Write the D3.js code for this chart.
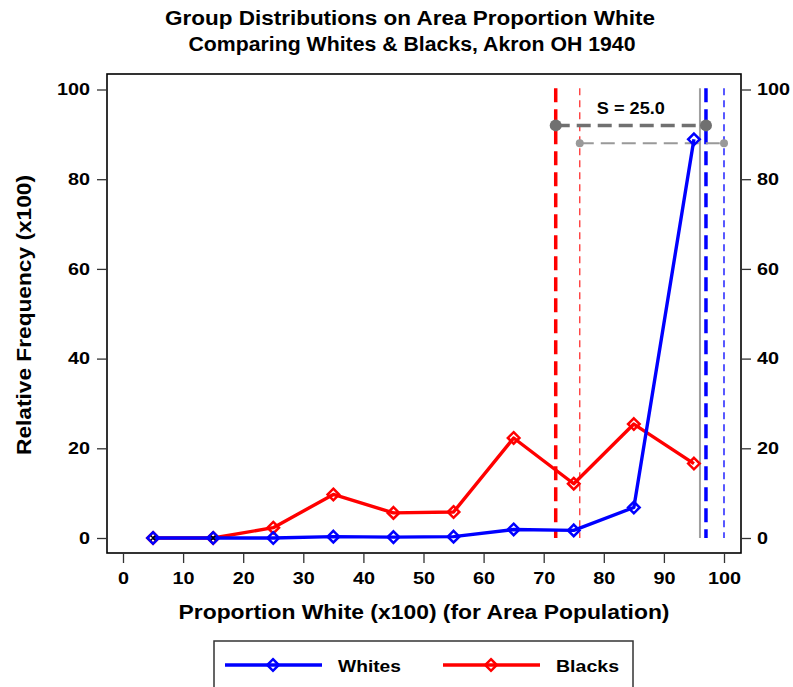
<!DOCTYPE html>
<html><head><meta charset="utf-8">
<script src="https://cdn.jsdelivr.net/npm/d3@7"></script>
<style>body{margin:0;background:#fff;} svg{display:block;font-family:"Liberation Sans",Arial,sans-serif;}</style>
</head><body>
<script>
const categories = [5,15,25,35,45,55,65,75,85,95];
const whites = [0,0,0,0.3,0.2,0.3,1.9,1.7,6.8,88.9];
const blacks = [0,0,2.3,9.7,5.6,5.8,22.3,12.1,25.4,16.6];
const xTicks = [0,10,20,30,40,50,60,70,80,90,100];
const yTicks = [0,20,40,60,80,100];
const means = {blackMean:72, blackMedian:76, whiteMean:97, whiteMedian:100, gray:96};
const sLevels = {thick:92, thin:88};
const sLabel = "S = 25.0";

const W=793,H=687;
const svg=d3.select("body").append("svg").attr("width",W).attr("height",H);
const frame={l:107,r:741,t:74,b:553};
const x=d3.scaleLinear().domain([0,100]).range([123,724]);
const y=d3.scaleLinear().domain([0,100]).range([538,89.5]);

function txt(xp,yp,s,size,len,anchor){
  return svg.append("text").attr("x",xp).attr("y",yp).attr("text-anchor",anchor||"middle").attr("font-weight","bold")
    .attr("font-size",size).attr("textLength",len).attr("lengthAdjust","spacingAndGlyphs").text(s);
}
// titles
txt(410,25,"Group Distributions on Area Proportion White",19.5,490);
txt(412,51,"Comparing Whites & Blacks, Akron OH 1940",19.5,447);

// frame
svg.append("rect").attr("x",frame.l).attr("y",frame.t).attr("width",frame.r-frame.l).attr("height",frame.b-frame.t).attr("fill","none").attr("stroke","#000").attr("stroke-width",1.6);

// axes
const axL=svg.append("g").attr("transform",`translate(${frame.l},0)`).call(d3.axisLeft(y).tickValues(yTicks).tickSize(10).tickPadding(7));
const axR=svg.append("g").attr("transform",`translate(${frame.r},0)`).call(d3.axisRight(y).tickValues(yTicks).tickSize(10).tickPadding(6));
const axB=svg.append("g").attr("transform",`translate(0,${frame.b})`).call(d3.axisBottom(x).tickValues(xTicks).tickSize(10).tickPadding(9));
[axL,axR,axB].forEach(a=>{a.select(".domain").remove();a.selectAll("line").attr("stroke","#333").attr("stroke-width",1.3);
  a.selectAll("text").attr("font-size",16.5).attr("font-weight","bold").attr("fill","#000").style("font-family","Liberation Sans, Arial, sans-serif")
   .attr("textLength",function(){return this.textContent.length*11;}).attr("lengthAdjust","spacingAndGlyphs");});

svg.append("text").attr("transform","translate(31,315) rotate(-90)").attr("text-anchor","middle").attr("font-weight","bold").attr("font-size",20)
  .attr("textLength",280).attr("lengthAdjust","spacingAndGlyphs").text("Relative Frequency (x100)");
txt(424,619,"Proportion White (x100) (for Area Population)",20,491);

// vertical reference lines
const vtop=y(100.3), vbot=y(0);
function vline(v,color,w,dash){svg.append("line").attr("x1",x(v)).attr("x2",x(v)).attr("y1",vtop).attr("y2",vbot).attr("stroke",color).attr("stroke-width",w).attr("stroke-dasharray",dash);}
vline(means.gray,"#a0a0a0",2,null);
vline(means.blackMean,"#ff0000",3.5,"14,7");
vline(means.blackMedian,"#ff3030",1.3,"7,5");
vline(means.whiteMean,"#0000ff",3.5,"14,7");
vline(means.whiteMedian,"#0000ff",1.3,"7,5");

// S lines
svg.append("line").attr("x1",x(means.blackMedian)).attr("x2",x(means.whiteMedian)).attr("y1",y(sLevels.thin)).attr("y2",y(sLevels.thin)).attr("stroke","#999").attr("stroke-width",2).attr("stroke-dasharray","14,7");
[means.blackMedian,means.whiteMedian].forEach(v=>svg.append("circle").attr("cx",x(v)).attr("cy",y(sLevels.thin)).attr("r",4).attr("fill","#999"));
svg.append("line").attr("x1",x(means.blackMean)).attr("x2",x(means.whiteMean)).attr("y1",y(sLevels.thick)).attr("y2",y(sLevels.thick)).attr("stroke","#707070").attr("stroke-width",3.5).attr("stroke-dasharray","14,7");
[means.blackMean,means.whiteMean].forEach(v=>svg.append("circle").attr("cx",x(v)).attr("cy",y(sLevels.thick)).attr("r",6).attr("fill","#707070"));
txt((x(means.blackMean)+x(means.whiteMean))/2,114,sLabel,17,68);

// series
const line=d3.line().x((d,i)=>x(categories[i])).y(d=>y(d));
function series(vals,color){
  svg.append("path").attr("d",line(vals)).attr("fill","none").attr("stroke",color).attr("stroke-width",3.4).attr("stroke-linejoin","round");
  svg.append("g").selectAll("path").data(vals).join("path")
    .attr("d",d3.symbol(d3.symbolDiamond2,85)).attr("transform",(d,i)=>`translate(${x(categories[i])},${y(d)})`)
    .attr("fill","none").attr("stroke",color).attr("stroke-width",2.5);
}
series(blacks,"#ff0000");
series(whites,"#0000ff");
// small black x markers at zero-overlap points
const zeroCats=categories.filter((c,i)=>blacks[i]===0&&whites[i]===0);
svg.append("g").selectAll("path").data(zeroCats).join("path")
  .attr("d",d3.symbol(d3.symbolX,14)).attr("transform",c=>`translate(${x(c)},${y(0)})`).attr("stroke","#000").attr("stroke-width",1.5).attr("fill","none");

// legend
svg.append("rect").attr("x",214).attr("y",641).attr("width",419).attr("height",60).attr("fill","#fff").attr("stroke","#333").attr("stroke-width",1.5);
const leg=[{name:"Whites",color:"#0000ff",x0:225},{name:"Blacks",color:"#ff0000",x0:443}];
leg.forEach(l=>{
  svg.append("line").attr("x1",l.x0).attr("x2",l.x0+97).attr("y1",665).attr("y2",665).attr("stroke",l.color).attr("stroke-width",3.4);
  svg.append("path").attr("d",d3.symbol(d3.symbolDiamond2,85)).attr("transform",`translate(${l.x0+48},665)`).attr("fill","none").attr("stroke",l.color).attr("stroke-width",2.5);
  txt(l.x0+113,672,l.name,17,63,"start");
});
</script>
</body></html>
